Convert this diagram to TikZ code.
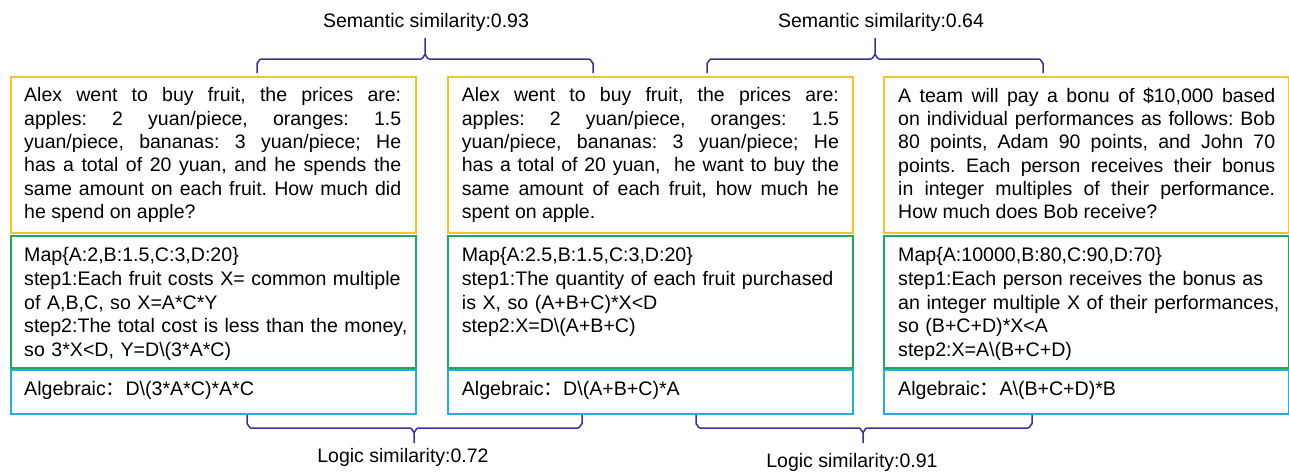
\documentclass[tikz,border=0pt]{standalone}
\usepackage{fontspec}
\setmainfont{Liberation Sans}
\newfontfamily\cjkfont{Noto Sans CJK SC}
\usetikzlibrary{calc}
\frenchspacing
\definecolor{qyellow}{RGB}{250,192,45}
\definecolor{lgreen}{RGB}{30,168,95}
\definecolor{ablue}{RGB}{40,172,222}
\definecolor{brcol}{RGB}{52,52,150}
\newcommand{\fcolon}{{\cjkfont ：}}
\tikzset{
  qbox/.style={draw=qyellow, line width=2pt, minimum width=405pt, minimum height=156pt, anchor=north west, inner sep=0pt},
  lbox/.style={draw=lgreen, line width=2pt, minimum width=405pt, minimum height=132pt, anchor=north west, inner sep=0pt},
  abox/.style={draw=ablue, line width=2pt, minimum width=405pt, minimum height=44pt, anchor=north west, inner sep=0pt},
  jtext/.style={anchor=north west, inner sep=0pt, text width=377pt, align=justify, font=\fontsize{19.5}{23.3}\selectfont\frenchspacing},
  ltext/.style={anchor=north west, inner sep=0pt, text width=400pt, align=left, font=\fontsize{19.6}{23.6}\selectfont\frenchspacing},
  simlabel/.style={inner sep=0pt, font=\fontsize{19.5}{22}\selectfont},
  brace/.style={draw=brcol, line width=1.5pt, line join=round}
}
\begin{document}
\begin{tikzpicture}[x=1pt,y=-1pt]
\useasboundingbox (0,0) rectangle (1289,471);
% boxes
\node[qbox] (q1) at (10,76) {};
\node[qbox] (q2) at (447,76) {};
\node[qbox] (q3) at (883,76) {};
\node[lbox] (l1) at (10,235) {};
\node[lbox] (l2) at (447,235) {};
\node[lbox] (l3) at (883,235) {};
\node[abox] (a1) at (10,369) {};
\node[abox] (a2) at (447,369) {};
\node[abox] (a3) at (883,369) {};
% question texts
\node[jtext] (q1t) at ($(q1.north west)+(14,11.6)$) {Alex went to buy fruit, the prices are:\linebreak apples: 2 yuan/piece, oranges: 1.5\linebreak yuan/piece, bananas: 3 yuan/piece; He\linebreak has a total of 20 yuan, and he spends the\linebreak same amount on each fruit. How much did\linebreak he spend on apple?};
\node[jtext] (q2t) at ($(q2.north west)+(14.7,11.6)$) {Alex went to buy fruit, the prices are:\linebreak apples: 2 yuan/piece, oranges: 1.5\linebreak yuan/piece, bananas: 3 yuan/piece; He\linebreak has a total of 20 yuan,\ \ he want to buy the\linebreak same amount of each fruit, how much he\linebreak spent on apple.};
\node[jtext] (q3t) at ($(q3.north west)+(15,11.6)$) {A team will pay a bonu of \$10,000 based\linebreak on individual performances as follows: Bob\linebreak 80 points, Adam 90 points, and John 70\linebreak points. Each person receives their bonus\linebreak in integer multiples of their performance.\linebreak How much does Bob receive?};
% logic texts
\node[ltext] (l1t) at ($(l1.north west)+(14,12.5)$) {Map\{A:2,B:1.5,C:3,D:20\}\\step1:Each fruit costs X= common multiple\\of A,B,C, so X=A*C*Y\\step2:The total cost is less than the money,\\so 3*X<D, Y=D\textbackslash(3*A*C)};
\node[ltext] (l2t) at ($(l2.north west)+(14.7,12.5)$) {Map\{A:2.5,B:1.5,C:3,D:20\}\\step1:The quantity of each fruit purchased\\is X, so (A+B+C)*X<D\\step2:X=D\textbackslash(A+B+C)};
\node[ltext] (l3t) at ($(l3.north west)+(15,12.5)$) {Map\{A:10000,B:80,C:90,D:70\}\\step1:Each person receives the bonus as\\an integer multiple X of their performances,\\so (B+C+D)*X<A\\step2:X=A\textbackslash(B+C+D)};
% algebraic texts
\node[ltext] (a1t) at ($(a1.north west)+(14,11.6)$) {Algebraic\fcolon D\textbackslash(3*A*C)*A*C};
\node[ltext] (a2t) at ($(a2.north west)+(14.7,11.6)$) {Algebraic\fcolon D\textbackslash(A+B+C)*A};
\node[ltext] (a3t) at ($(a3.north west)+(15,11.6)$) {Algebraic\fcolon A\textbackslash(B+C+D)*B};
% top braces
\coordinate (s1a) at (257,73);
\coordinate (s1b) at (593,73);
\coordinate (s1t) at (425,38);
\draw[brace] (s1a) -- (257,63) to[out=-90,in=180] (261,59) -- (421,59) to[out=0,in=90] (s1t |- 0,55) -- (s1t);
\draw[brace] (s1t |- 0,55) to[out=90,in=180] (429,59) -- (589,59) to[out=0,in=-90] (593,63) -- (s1b);
\coordinate (s2a) at (707,73);
\coordinate (s2b) at (1043,73);
\coordinate (s2t) at (875,38);
\draw[brace] (s2a) -- (707,63) to[out=-90,in=180] (711,59) -- (871,59) to[out=0,in=90] (s2t |- 0,55) -- (s2t);
\draw[brace] (s2t |- 0,55) to[out=90,in=180] (879,59) -- (1039,59) to[out=0,in=-90] (1043,63) -- (s2b);
\node[simlabel] (s1l) at (426,22) {Semantic similarity:0.93};
\node[simlabel] (s2l) at (881,22) {Semantic similarity:0.64};
% bottom braces
\coordinate (g1a) at (247,415);
\coordinate (g1b) at (582,415);
\coordinate (g1t) at (414,443);
\draw[brace] (g1a) -- (247,424) to[out=90,in=180] (251,428) -- (410,428) to[out=0,in=-90] (g1t |- 0,432) -- (g1t);
\draw[brace] (g1t |- 0,432) to[out=-90,in=180] (418,428) -- (578,428) to[out=0,in=90] (582,424) -- (g1b);
\coordinate (g2a) at (696,415);
\coordinate (g2b) at (1032,415);
\coordinate (g2t) at (863,443);
\draw[brace] (g2a) -- (696,424) to[out=90,in=180] (700,428) -- (859,428) to[out=0,in=-90] (g2t |- 0,432) -- (g2t);
\draw[brace] (g2t |- 0,432) to[out=-90,in=180] (867,428) -- (1028,428) to[out=0,in=90] (1032,424) -- (g2b);
\node[simlabel] (g1l) at (403,457) {Logic similarity:0.72};
\node[simlabel] (g2l) at (852,462) {Logic similarity:0.91};
\end{tikzpicture}
\end{document}
